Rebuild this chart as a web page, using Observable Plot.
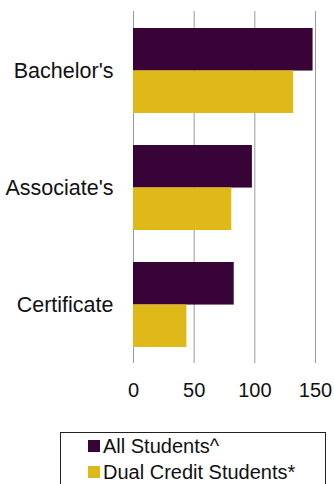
<!DOCTYPE html>
<html>
<head>
<meta charset="utf-8">
<script src="https://cdn.jsdelivr.net/npm/d3@7"></script>
<script src="https://cdn.jsdelivr.net/npm/@observablehq/plot@0.6"></script>
<style>
  html, body { margin: 0; padding: 0; background: #fff; }
  body { width: 334px; height: 484px; overflow: hidden; font-family: "Liberation Sans", Arial, sans-serif; color: #111; }
  #legend {
    position: absolute; left: 60px; top: 432px; width: 266px; height: 60px;
    border: 1px solid #222; box-sizing: border-box; padding-left: 27px;
    font-size: 20px;
  }
  .row { height: 26px; line-height: 26px; display: flex; align-items: center; white-space: nowrap; }
  .sw { width: 12px; height: 12px; margin-right: 3px; flex: none; }
</style>
</head>
<body>
<div id="chart"></div>
<div id="legend"></div>
<script>
const categories = ["Bachelor's", "Associate's", "Certificate"];
const allStudents = [148, 98, 83];
const dualCredit = [132, 81, 44];
const seriesNames = ["All Students^", "Dual Credit Students*"];
const seriesColors = ["#380337", "#dfb81a"];
const xTicks = [0, 50, 100, 150];

const W = 334, H = 410, mt = 11, mb = 47, ml = 133, mr = 19;
const padIn = 0.277, padOut = 0.138;
const bw = d3.scaleBand().domain(categories).range([mt, H - mb]).paddingInner(padIn).paddingOuter(padOut).bandwidth();

const rowsAll = categories.map((c, i) => ({category: c, value: allStudents[i], series: seriesNames[0]}));
const rowsDual = categories.map((c, i) => ({category: c, value: dualCredit[i], series: seriesNames[1]}));

const chart = Plot.plot({
  width: W, height: H,
  marginTop: mt, marginBottom: mb, marginLeft: ml, marginRight: mr,
  style: {fontFamily: "'Liberation Sans', Arial, sans-serif", fontSize: "20px", color: "#111", background: "#fff"},
  x: {domain: [0, 150], ticks: xTicks},
  y: {domain: categories, paddingInner: padIn, paddingOuter: padOut},
  color: {domain: seriesNames, range: seriesColors},
  marks: [
    Plot.gridX(xTicks, {stroke: "#9a9a9a", strokeOpacity: 1, strokeWidth: 1}),
    Plot.barX(rowsAll, {x: "value", y: "category", fill: "series", insetBottom: bw / 2}),
    Plot.barX(rowsDual, {x: "value", y: "category", fill: "series", insetTop: bw / 2}),
    Plot.axisX(xTicks, {tickSize: 0, tickPadding: 19, fontSize: 20, label: null}),
    Plot.axisY({tickSize: 0, tickPadding: 20, fontSize: 21.5, label: null})
  ]
});
document.getElementById("chart").appendChild(chart);

const legend = document.getElementById("legend");
seriesNames.forEach((name, i) => {
  const row = document.createElement("div");
  row.className = "row";
  const sw = document.createElement("span");
  sw.className = "sw";
  sw.style.background = seriesColors[i];
  const t = document.createElement("span");
  t.textContent = name;
  row.appendChild(sw);
  row.appendChild(t);
  legend.appendChild(row);
});
</script>
</body>
</html>
